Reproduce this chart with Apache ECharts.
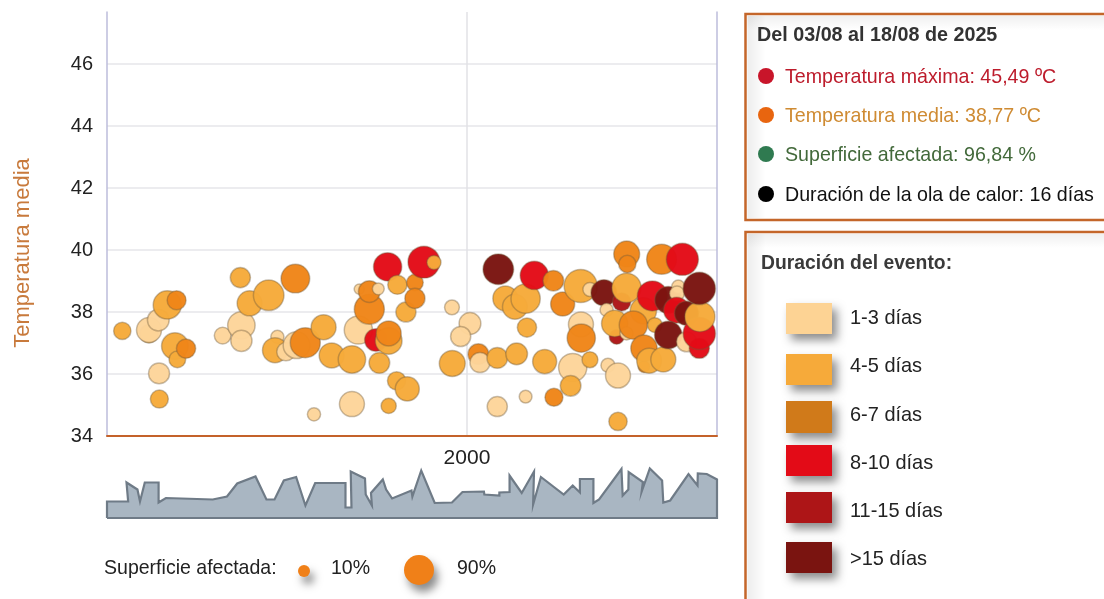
<!DOCTYPE html>
<html><head><meta charset="utf-8">
<style>html,body{margin:0;padding:0;background:#fff}#c{width:1104px;height:599px}</style>
<script src="https://cdn.jsdelivr.net/npm/echarts@6/dist/echarts.min.js"></script></head>
<body><div id="c"></div>
<script>
// year, mean temperature, affected surface %, duration class
const events = [
[1977.02,37.39,26,1],[1978.80,37.30,30,1],[1978.80,37.42,54,0],[1979.42,37.74,41,0],[1980.02,38.23,69,1],[1980.64,38.38,31,2],
[1980.53,36.90,62,1],[1980.69,36.47,24,1],[1981.27,36.82,32,2],[1979.47,36.02,38,0],[1979.49,35.19,28,1],
[1983.71,37.24,24,0],[1984.96,37.57,65,0],[1984.96,37.07,39,0],[1984.89,39.11,35,1],[1985.51,38.28,54,1],[1986.78,38.54,81,1],[1988.56,39.08,71,2],
[1987.36,37.20,15,0],[1987.20,36.77,54,1],[1987.93,36.72,29,0],[1988.64,36.93,62,0],[1989.22,37.01,78,2],[1990.44,37.51,54,1],
[1990.98,36.60,54,1],[1992.33,36.47,65,1],[1989.80,34.70,15,0],[1992.33,35.03,54,0],[1994.78,34.97,20,1],[1994.16,36.36,37,1],
[1992.82,38.74,9,0],[1992.76,37.42,69,0],[1993.49,38.09,78,2],[1993.49,38.66,41,2],[1994.09,38.75,12,0],[1993.93,37.10,44,3],
[1994.78,37.07,62,1],[1994.78,37.31,54,2],[1994.71,39.46,69,3],[1995.36,38.88,32,1],[1995.93,38.00,35,1],[1996.53,38.95,24,2],[1996.53,38.44,35,2],
[1995.31,35.78,29,1],[1996.02,35.52,50,1],[1997.13,39.61,88,3],[1997.80,39.60,17,1],
[1999.00,38.15,19,0],[2000.20,37.63,41,0],[1999.58,37.21,35,0],[1999.02,36.34,58,1],[2000.76,36.64,37,2],[2000.87,36.37,35,0],
[2002.02,36.52,37,1],[2003.31,36.65,41,1],[2002.09,39.38,81,5],[2002.56,38.44,54,1],[2003.20,38.17,54,1],[2003.91,38.43,74,1],[2004.00,37.50,32,1],
[2004.49,39.18,69,3],[2005.76,39.01,37,2],[2006.38,38.26,50,2],[2007.58,38.84,95,1],[2008.20,38.73,17,0],[2005.18,36.40,50,1],
[2007.60,37.60,54,0],[2007.05,36.21,69,0],[2006.91,35.62,37,1],[2007.62,37.16,69,2],[2008.20,36.46,22,1],[2002.02,34.95,35,0],[2003.91,35.27,14,0],[2005.80,35.25,28,2],
[2010.07,34.47,29,1],[2009.40,36.28,17,0],[2010.07,35.95,54,0],[2010.65,39.87,58,2],[2010.69,39.55,26,2],[2012.98,39.70,78,2],[2014.36,39.70,89,3],
[2009.98,37.20,19,4],[2009.13,38.62,58,5],[2010.31,38.33,29,4],[2009.31,38.07,15,0],[2009.85,37.63,60,1],[2010.64,38.78,74,1],[2010.64,37.31,15,0],
[2011.76,38.04,60,1],[2011.09,37.58,69,2],[2011.80,36.24,12,2],[2011.80,36.83,60,2],[2012.15,36.43,54,1],[2013.09,36.47,54,1],[2012.53,37.58,19,1],
[2012.36,38.52,78,3],[2013.42,38.39,62,5],[2014.09,38.82,15,0],[2014.00,38.60,19,0],[2013.98,38.06,58,3],[2014.64,37.96,50,5],[2013.42,37.26,65,5],
[2014.64,37.04,35,0],[2015.49,36.83,35,3],[2015.49,37.31,90,3],[2015.53,37.85,78,1],[2015.49,38.76,90,5]
];
const bubbleColors = ['#fdd59a','#f6aa3a','#ef8518','#e30b17','#ad1517','#7a1410'];
// affected surface per year strip
const stripYears = [1976,1976,1977.41,1977.30,1978.03,1978.20,1978.52,1979.44,1979.44,1979.93,1983.05,1984,1984.68,1985.9,1986.63,1987.17,1987.79,1988.61,1989.23,1989.88,1991.9,1991.9,1992.3,1992.25,1993.2,1993.25,1993.66,1993.6,1994.39,1994.61,1995.01,1996.3,1996.36,1996.95,1997.85,1999.0,1999.7,2001.13,2001.16,2002.16,2002.16,2002.84,2002.84,2003.65,2004.47,2004.41,2004.93,2006.45,2007.05,2007.53,2007.53,2008.43,2008.43,2008.81,2010.3,2010.38,2010.76,2010.78,2011.73,2011.65,2012.19,2013.01,2013.09,2013.55,2014.77,2015.37,2015.39,2015.99,2016.67,2016.67,1976];
const stripValues = [0,33,33,71,57,33,71,71,31,40,37,43,69,83,37,37,75,82,25,70,70,21,21,93,79,47,25,50,77,57,39,55,43,95,30,31,52,53,47,45,51,52,85,50,93,27,82,47,65,51,78,78,30,37,98,45,57,92,72,53,99,75,31,35,88,65,89,88,77,0,0];
const yTicks = [34,36,38,40,42,44,46];
const xLabels = [2000];
const infoTitle = 'Del 03/08 al 18/08 de 2025';
const infoRows = [['Temperatura máxima: 45,49 ºC','#c8152a','#bd1c2c'],['Temperatura media: 38,77 ºC','#e8650f','#cf8b33'],['Superficie afectada: 96,84 %','#2f7a50','#42693a'],['Duración de la ola de calor: 16 días','#000000','#111111']];
const durTitle = 'Duración del evento:';
const durLabels = ['1-3 días','4-5 días','6-7 días','8-10 días','11-15 días','>15 días'];
const durColors = ['#fdd394','#f6aa3a','#d07a1a','#e30b17','#ad1517','#7a1410'];

const FONT = '"Liberation Sans", Arial, sans-serif';
const XMIN = 1976, XMAX = 2016.67, YMIN = 34, YMAX = 47.68;
const PANEL = '#c4662a';
const g = [];
function txt(x,y,t,size,fill,w,sx){ g.push({type:'text',x,y,scaleX:sx||1,silent:true,style:{text:t,fill,font:(w||'normal')+' '+size+'px '+FONT,textVerticalAlign:'middle',textBaseline:'middle'}}); }
function panel(x,y,w,h){
  g.push({type:'rect',silent:true,shape:{x,y,width:w,height:h},style:{fill:'#fff',stroke:PANEL,lineWidth:2.5}});
  g.push({type:'rect',silent:true,shape:{x:x+2,y:y+2,width:18,height:h-4},style:{fill:{type:'linear',x:0,y:0,x2:1,y2:0,colorStops:[{offset:0,color:'rgba(0,0,0,0.07)'},{offset:1,color:'rgba(0,0,0,0)'}]}}});
  g.push({type:'rect',silent:true,shape:{x:x+2,y:y+2,width:w-4,height:14},style:{fill:{type:'linear',x:0,y:0,x2:0,y2:1,colorStops:[{offset:0,color:'rgba(0,0,0,0.06)'},{offset:1,color:'rgba(0,0,0,0)'}]}}});
}
panel(745.5,14,370,206);
panel(745.5,232,370,380);
txt(757,35,infoTitle,21,'#333','bold',0.94);
const rowY=[76,115,154,194];
infoRows.forEach((r,i)=>{
  g.push({type:'circle',silent:true,shape:{cx:766,cy:rowY[i],r:8},style:{fill:r[1]}});
  txt(785,rowY[i]+1,r[0],21,r[2],'normal',0.935);
});
txt(761,263,durTitle,21,'#3a3a3a','bold',0.92);
const swY=[303,354,401,445,492,542], swH=[31,31,32,31,31,31], lbY=[318,366,415,463,511,559];
durLabels.forEach((l,i)=>{
  g.push({type:'rect',silent:true,shape:{x:786,y:swY[i],width:46,height:swH[i]},style:{fill:durColors[i],shadowBlur:10,shadowOffsetX:5,shadowOffsetY:6,shadowColor:'rgba(0,0,0,0.45)'}});
  txt(850,lbY[i],l,21,'#222','normal',0.95);
});
txt(104,568,'Superficie afectada:',21,'#222','normal',0.93);
g.push({type:'circle',silent:true,shape:{cx:304,cy:571,r:6},style:{fill:'#f08018',shadowBlur:9,shadowOffsetX:4,shadowOffsetY:7,shadowColor:'rgba(0,0,0,0.45)'}});
txt(331,568,'10%',21,'#222','normal',0.93);
g.push({type:'circle',silent:true,shape:{cx:419,cy:570,r:15},style:{fill:'#f08018',shadowBlur:9,shadowOffsetX:4,shadowOffsetY:7,shadowColor:'rgba(0,0,0,0.45)'}});
txt(457,568,'90%',21,'#222','normal',0.93);
g.push({type:'text',silent:true,x:23,y:253,rotation:Math.PI/2,style:{text:'Temperatura media',fill:'#c87a3c',font:'22px '+FONT,textAlign:'center',textVerticalAlign:'middle',textBaseline:'middle'}});

const chart = echarts.init(document.getElementById('c'),null,{renderer:'canvas'});
chart.setOption({
  animation:false,
  backgroundColor:'#fff',
  graphic:{elements:g},
  grid:[{left:107,right:387,top:12,bottom:163},{left:107,right:387,top:468,bottom:81}],
  xAxis:[
    {type:'value',gridIndex:0,min:XMIN,max:XMAX,
     axisLine:{onZero:false,lineStyle:{color:'#c4622a',width:2}},
     axisTick:{show:false,customValues:xLabels},
     axisLabel:{customValues:xLabels,formatter:v=>String(v),color:'#222',fontSize:21,fontFamily:FONT,margin:12,showMinLabel:false,showMaxLabel:false},
     splitLine:{show:true,lineStyle:{color:'#e2e2e6',width:1.5}}},
    {type:'value',gridIndex:1,min:XMIN,max:XMAX,show:false}
  ],
  yAxis:[
    {type:'value',gridIndex:0,min:YMIN,max:YMAX,interval:2,
     axisLine:{show:true,onZero:false,lineStyle:{color:'#bdbddb',width:1.5}},
     axisTick:{show:false},
     axisLabel:{customValues:yTicks,color:'#222',fontSize:20,fontFamily:FONT,margin:14},
     splitLine:{show:true,showMaxLine:false,showMinLine:false,lineStyle:{color:'#ececef',width:2}}},
    {type:'value',gridIndex:0,min:YMIN,max:YMAX,position:'right',
     axisLine:{show:true,onZero:false,lineStyle:{color:'#bdbddb',width:1.5}},
     axisTick:{show:false},axisLabel:{show:false},splitLine:{show:false}},
    {type:'value',gridIndex:1,min:0,max:100,show:false}
  ],
  series:[
    {type:'scatter',xAxisIndex:0,yAxisIndex:0,clip:false,z:3,
     data:events.map(e=>({value:[e[0],e[1],e[2]],symbolSize:3.4*Math.sqrt(e[2]),
       itemStyle:{color:bubbleColors[e[3]],borderColor:'rgba(110,90,60,0.4)',borderWidth:1.5,opacity:0.97}}))},
    {type:'line',xAxisIndex:1,yAxisIndex:2,clip:false,symbol:'none',smooth:false,
     data:stripYears.map((y,i)=>[y,stripValues[i]]),
     lineStyle:{color:'#6f7b87',width:2.2,join:'miter'},areaStyle:{color:'#a9b6c2',opacity:1,origin:'start'}}
  ]
});
</script></body></html>
